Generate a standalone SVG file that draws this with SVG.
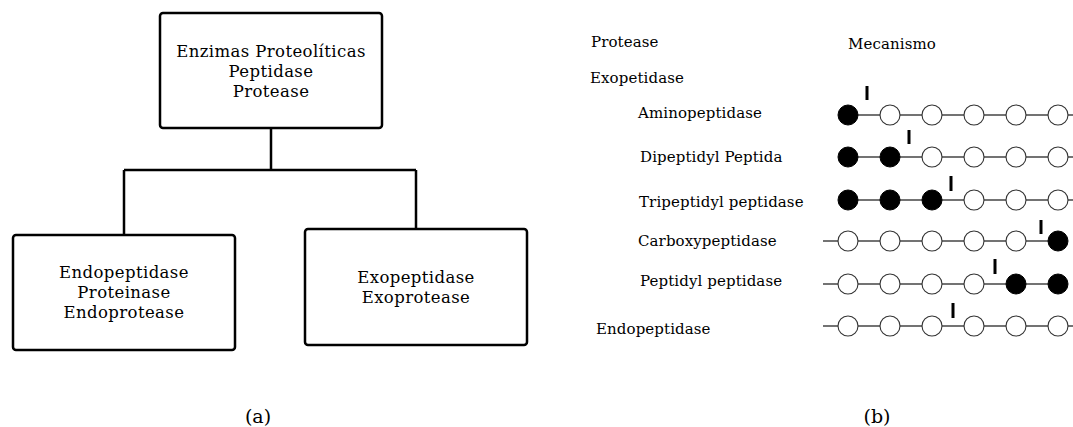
<svg xmlns="http://www.w3.org/2000/svg" width="1073" height="427" viewBox="0 0 1073 427">
<style>
.box{fill:#fff;stroke:#000;stroke-width:2.5}
.conn{fill:none;stroke:#000;stroke-width:2.5}
.bt{font-family:"DejaVu Serif",serif;font-size:16.5px;letter-spacing:0.4px;text-anchor:middle;fill:#000}
.lt{font-family:"DejaVu Serif",serif;font-size:15px;letter-spacing:0.1px;fill:#000}
.cap{font-family:"DejaVu Serif",serif;font-size:19px;text-anchor:middle;fill:#000}
.chain{stroke:#444;stroke-width:1.3;fill:none}
.o{fill:#fff;stroke:#333;stroke-width:1.1}
.f{fill:#000;stroke:#000;stroke-width:1}
.cut{stroke:#000;stroke-width:3}
</style>
<rect width="1073" height="427" fill="#fff"/>
<g id="connectors">
<path class="conn" d="M271 128 V170 M124 170 H416 M124 170 V235 M416 170 V229"/>
</g>
<g id="node-top">
<rect class="box" x="160" y="13" width="222" height="115" rx="3"/>
<text class="bt" x="271" y="57">Enzimas Proteolíticas</text>
<text class="bt" x="271" y="77">Peptidase</text>
<text class="bt" x="271" y="97">Protease</text>
</g>
<g id="node-endo">
<rect class="box" x="13" y="235" width="222" height="115" rx="3"/>
<text class="bt" x="124" y="278">Endopeptidase</text>
<text class="bt" x="124" y="298">Proteinase</text>
<text class="bt" x="124" y="318">Endoprotease</text>
</g>
<g id="node-exo">
<rect class="box" x="305" y="229" width="222" height="116" rx="3"/>
<text class="bt" x="416" y="283">Exopeptidase</text>
<text class="bt" x="416" y="303">Exoprotease</text>
</g>
<text class="cap" x="258" y="423">(a)</text>
<text class="cap" x="877" y="423">(b)</text>
<g id="panel-b">
<text class="lt" x="591" y="47">Protease</text>
<text class="lt" x="848" y="49">Mecanismo</text>
<text class="lt" x="590" y="83">Exopetidase</text>
<text class="lt" x="638" y="118">Aminopeptidase</text>
<text class="lt" x="640" y="162">Dipeptidyl Peptida</text>
<text class="lt" x="639" y="207">Tripeptidyl peptidase</text>
<text class="lt" x="638" y="246">Carboxypeptidase</text>
<text class="lt" x="640" y="286">Peptidyl peptidase</text>
<text class="lt" x="596" y="334">Endopeptidase</text>
<g id="row1">
<line class="chain" x1="848" y1="115" x2="1073" y2="115"/>
<circle class="f" cx="848" cy="115" r="10"/>
<circle class="o" cx="890" cy="115" r="10"/>
<circle class="o" cx="932" cy="115" r="10"/>
<circle class="o" cx="974" cy="115" r="10"/>
<circle class="o" cx="1016" cy="115" r="10"/>
<circle class="o" cx="1058" cy="115" r="10"/>
<line class="cut" x1="867" y1="86" x2="867" y2="100"/>
</g>
<g id="row2">
<line class="chain" x1="848" y1="157" x2="1073" y2="157"/>
<circle class="f" cx="848" cy="157" r="10"/>
<circle class="f" cx="890" cy="157" r="10"/>
<circle class="o" cx="932" cy="157" r="10"/>
<circle class="o" cx="974" cy="157" r="10"/>
<circle class="o" cx="1016" cy="157" r="10"/>
<circle class="o" cx="1058" cy="157" r="10"/>
<line class="cut" x1="909" y1="130" x2="909" y2="144"/>
</g>
<g id="row3">
<line class="chain" x1="848" y1="200" x2="1073" y2="200"/>
<circle class="f" cx="848" cy="200" r="10"/>
<circle class="f" cx="890" cy="200" r="10"/>
<circle class="f" cx="932" cy="200" r="10"/>
<circle class="o" cx="974" cy="200" r="10"/>
<circle class="o" cx="1016" cy="200" r="10"/>
<circle class="o" cx="1058" cy="200" r="10"/>
<line class="cut" x1="951" y1="176" x2="951" y2="191"/>
</g>
<g id="row4">
<line class="chain" x1="823" y1="241" x2="1058" y2="241"/>
<circle class="o" cx="848" cy="241" r="10"/>
<circle class="o" cx="890" cy="241" r="10"/>
<circle class="o" cx="932" cy="241" r="10"/>
<circle class="o" cx="974" cy="241" r="10"/>
<circle class="o" cx="1016" cy="241" r="10"/>
<circle class="f" cx="1058" cy="241" r="10"/>
<line class="cut" x1="1041" y1="220" x2="1041" y2="234"/>
</g>
<g id="row5">
<line class="chain" x1="823" y1="284" x2="1058" y2="284"/>
<circle class="o" cx="848" cy="284" r="10"/>
<circle class="o" cx="890" cy="284" r="10"/>
<circle class="o" cx="932" cy="284" r="10"/>
<circle class="o" cx="974" cy="284" r="10"/>
<circle class="f" cx="1016" cy="284" r="10"/>
<circle class="f" cx="1058" cy="284" r="10"/>
<line class="cut" x1="995" y1="259" x2="995" y2="274"/>
</g>
<g id="row6">
<line class="chain" x1="823" y1="326" x2="1073" y2="326"/>
<circle class="o" cx="848" cy="326" r="10"/>
<circle class="o" cx="890" cy="326" r="10"/>
<circle class="o" cx="932" cy="326" r="10"/>
<circle class="o" cx="974" cy="326" r="10"/>
<circle class="o" cx="1016" cy="326" r="10"/>
<circle class="o" cx="1058" cy="326" r="10"/>
<line class="cut" x1="953" y1="303" x2="953" y2="318"/>
</g>
</g>
</svg>
